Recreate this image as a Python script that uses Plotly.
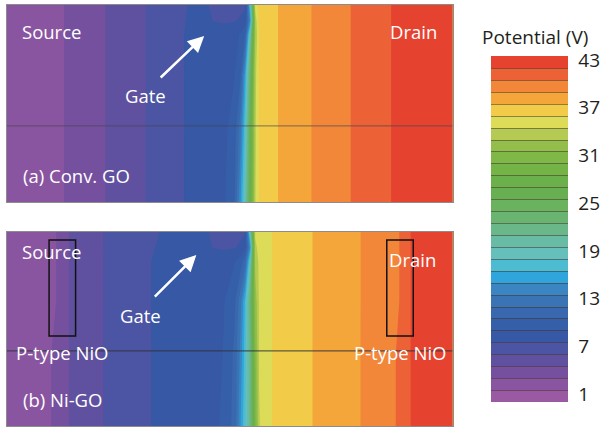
import plotly.graph_objects as go

# ---------------- data (potential in V) ----------------
# positions along the channel (a.u.) and heights (% of film thickness)
XA = [0, 58, 100, 141, 180, 204, 220, 232, 238, 243, 248, 253, 257, 276, 310, 350, 391, 454]
YA = [0, 36, 64, 85, 92, 100]
ZA = [
    [1.6, 2.99, 4.49, 5.99, 7.49, 8.0, 8.6, 10.5, 15.0, 19.5, 27.0, 34.4, 36.1, 37.49, 38.99, 40.49, 41.99, 43.4],
    [1.6, 2.99, 4.49, 5.99, 7.49, 8.0, 8.5, 9.8, 13.0, 18.0, 26.0, 34.2, 36.1, 37.49, 38.99, 40.49, 41.99, 43.4],
    [1.6, 2.99, 4.49, 5.99, 7.49, 8.0, 8.4, 8.95, 10.3, 16.0, 24.0, 34.0, 36.2, 37.49, 38.99, 40.49, 41.99, 43.4],
    [1.6, 2.99, 4.49, 5.99, 7.49, 8.0, 8.3, 8.6, 9.1, 10.6, 20.0, 33.0, 36.3, 37.49, 38.99, 40.49, 41.99, 43.4],
    [1.6, 2.99, 4.49, 5.99, 7.49, 7.6, 7.3, 7.4, 7.7, 8.3, 15.0, 33.5, 36.4, 37.49, 38.99, 40.49, 41.99, 43.4],
    [1.6, 2.99, 4.49, 5.99, 7.49, 7.55, 7.0, 7.0, 7.1, 7.3, 18.0, 35.0, 36.5, 37.49, 38.99, 40.49, 41.99, 43.4],
]

XB = [0, 45, 63, 98, 146, 204, 220, 232, 238, 243, 248, 253, 257, 270, 311, 360, 396, 411, 454]
YB = [0, 36, 64, 85, 92, 100]
ZB = [
    [1.6, 2.99, 4.49, 5.99, 7.49, 8.0, 9.3, 11.0, 15.0, 18.0, 22.0, 30.0, 34.4, 35.99, 37.49, 38.99, 40.49, 41.99, 43.4],
    [1.6, 2.99, 4.49, 5.99, 7.49, 8.0, 9.0, 10.8, 14.0, 17.5, 22.0, 31.0, 34.6, 35.99, 37.49, 38.99, 40.49, 41.99, 43.4],
    [1.6, 2.4, 4.49, 5.99, 7.49, 8.0, 8.8, 10.2, 13.0, 17.0, 23.0, 32.0, 34.7, 35.99, 37.49, 38.99, 40.0, 41.99, 43.4],
    [1.6, 2.4, 4.49, 5.99, 7.49, 8.0, 8.4, 8.9, 9.6, 11.5, 19.0, 33.5, 34.8, 35.99, 37.49, 38.99, 40.0, 41.99, 43.4],
    [1.6, 2.4, 4.49, 5.99, 7.49, 7.6, 7.3, 7.4, 7.8, 8.8, 15.0, 34.2, 34.9, 35.99, 37.49, 38.99, 40.0, 41.99, 43.4],
    [1.6, 2.4, 4.49, 5.99, 7.49, 7.55, 7.0, 7.0, 7.1, 7.4, 20.0, 34.7, 35.0, 35.99, 37.49, 38.99, 40.0, 41.99, 43.4],
]

LEVEL_START, LEVEL_END, LEVEL_STEP = 1.5, 42.0, 1.5
Z_MIN, Z_MAX = 0.0, 43.5
TICK_VALS = [1, 7, 13, 19, 25, 31, 37, 43]
TICK_TEXT = ["1", "7", "13", "19", "25", "31", "37", "43"]
COLORBAR_TITLE = "Potential (V)"

BAND_COLORS = [
    "#9a5aa3", "#8a55a0", "#75509f", "#5f51a0", "#4c55a3", "#3758a5", "#3560a9",
    "#3968ae", "#3b74b5", "#3a85c2", "#2fa5dc", "#4ebcd0", "#65bfbb", "#68bba5",
    "#6ab88a", "#6ab472", "#6ab25e", "#68af52", "#6bb04a", "#74b346", "#80b848",
    "#94be4c", "#b4ca52", "#dcdc58", "#f2cc48", "#f4a63a", "#f2873a", "#ec6136",
    "#e5432f",
]

# ---------------- colour scales ----------------
n = len(BAND_COLORS)
fill_scale = [[k / (n - 1), c] for k, c in enumerate(BAND_COLORS)]
step_scale = []
for k, c in enumerate(BAND_COLORS):
    step_scale.append([k / n, c])
    step_scale.append([(k + 1) / n, c])

W, H = 600, 428
def px_x(p):
    return p / W
def px_y(p):
    return (H - p) / H

contours_fill = dict(start=LEVEL_START, end=LEVEL_END, size=LEVEL_STEP,
                     coloring="fill", showlines=False)

fig = go.Figure()
fig.add_trace(go.Contour(x=XA, y=YA, z=ZA, xaxis="x", yaxis="y",
                         contours=contours_fill, line=dict(width=0), line_smoothing=0,
                         colorscale=fill_scale, showscale=False, hoverinfo="skip"))
fig.add_trace(go.Contour(x=XB, y=YB, z=ZB, xaxis="x2", yaxis="y2",
                         contours=contours_fill, line=dict(width=0), line_smoothing=0,
                         colorscale=fill_scale, showscale=False, hoverinfo="skip"))
# trace that carries the colour bar (kept outside the visible axis range)
fig.add_trace(go.Contour(
    x=XA, y=YA, z=ZA, xaxis="x3", yaxis="y3",
    contours=dict(start=LEVEL_START, end=LEVEL_END, size=LEVEL_STEP,
                  coloring="heatmap", showlines=True),
    line=dict(color="rgba(70,55,40,0.55)", width=1),
    colorscale=step_scale, zmin=Z_MIN, zmax=Z_MAX, showscale=True, hoverinfo="skip",
    colorbar=dict(
        x=px_x(500), xanchor="left", xpad=0,
        y=px_y(402), yanchor="bottom", ypad=0,
        len=346, lenmode="pixels",
        thickness=77, thicknessmode="pixels",
        outlinewidth=0,
        tickvals=TICK_VALS, ticktext=TICK_TEXT,
        ticks="outside", ticklen=7, tickcolor="rgba(0,0,0,0)",
        tickfont=dict(family="Open Sans", size=19, color="#231f20"),
    ),
))

axis_common = dict(showgrid=False, zeroline=False, showticklabels=False, ticks="",
                   showline=True, mirror=True, linecolor="#8c8c8c", linewidth=1)
fig.update_layout(
    width=W, height=H, margin=dict(l=0, r=0, t=0, b=0),
    paper_bgcolor="white", plot_bgcolor="white", showlegend=False,
    xaxis=dict(domain=[px_x(7), px_x(461)], range=[0, 454], anchor="y", **axis_common),
    yaxis=dict(domain=[px_y(202), px_y(5)], range=[0, 100], anchor="x", **axis_common),
    xaxis2=dict(domain=[px_x(7), px_x(461)], range=[0, 454], anchor="y2", **axis_common),
    yaxis2=dict(domain=[px_y(426), px_y(232)], range=[0, 100], anchor="x2", **axis_common),
    xaxis3=dict(domain=[0.99, 1.0], range=[1000, 1001], visible=False, anchor="y3"),
    yaxis3=dict(domain=[0.0, 0.01], range=[1000, 1001], visible=False, anchor="x3"),
)

# colour-bar title
fig.add_annotation(text=COLORBAR_TITLE, x=px_x(489), y=px_y(37), xref="paper", yref="paper",
                   xanchor="left", yanchor="middle", showarrow=False,
                   font=dict(family="Open Sans", size=19, color="#231f20"))

# interface lines and NiO boxes
fig.add_shape(type="line", xref="x", yref="y", x0=0, x1=454, y0=38.6, y1=38.6,
              line=dict(color="rgba(70,70,80,0.55)", width=1.2))
fig.add_shape(type="line", xref="x2", yref="y2", x0=0, x1=454, y0=38.7, y1=38.7,
              line=dict(color="rgba(50,50,60,0.75)", width=1.2))
fig.add_shape(type="rect", xref="x2", yref="y2", x0=43, x1=70, y0=46.4, y1=95.9,
              line=dict(color="#111111", width=1.5))
fig.add_shape(type="rect", xref="x2", yref="y2", x0=387, x1=414, y0=46.4, y1=95.9,
              line=dict(color="#111111", width=1.5))

FONT = dict(family="Open Sans", size=18.5, color="white")
def label(text, x, y, xr, yr, anchor="center"):
    fig.add_annotation(text=text, x=x, y=y, xref=xr, yref=yr, showarrow=False,
                       xanchor=anchor, yanchor="middle", font=FONT)

label("Source", 45, 86.3, "x", "y")
label("Drain", 414, 86.3, "x", "y")
label("Gate", 141, 54.3, "x", "y")
label("(a) Conv. GO", 14, 13.7, "x", "y", "left")
label("Source", 45, 89.7, "x2", "y2")
label("Drain", 413, 85.6, "x2", "y2")
label("Gate", 136, 57.2, "x2", "y2")
label("P-type NiO", 56, 38.1, "x2", "y2")
label("P-type NiO", 400, 38.1, "x2", "y2")
label("(b) Ni-GO", 14, 13.9, "x2", "y2", "left")

fig.add_annotation(x=201, y=84.3, xref="x", yref="y", ax=-45, ay=43, text="",
                   showarrow=True, arrowhead=2, arrowsize=1.3, arrowwidth=2.5,
                   arrowcolor="white")
fig.add_annotation(x=193, y=88.1, xref="x2", yref="y2", ax=-43, ay=43, text="",
                   showarrow=True, arrowhead=2, arrowsize=1.3, arrowwidth=2.5,
                   arrowcolor="white")

fig.write_html("out.html")
